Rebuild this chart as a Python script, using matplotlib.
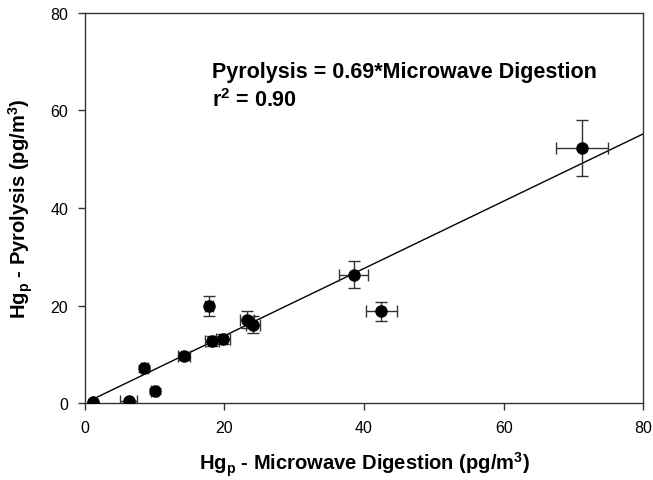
import numpy as np
import matplotlib
matplotlib.use("Agg")
import matplotlib.pyplot as plt

plt.rcParams['font.family'] = ['Liberation Sans', 'DejaVu Sans']
plt.rcParams['mathtext.fontset'] = 'custom'
plt.rcParams['mathtext.rm'] = 'Liberation Sans'
plt.rcParams['mathtext.bf'] = 'Liberation Sans:bold'

# microwave digestion (x) vs pyrolysis (y), pg/m3
mw = [1.1, 6.3, 10.0, 8.5, 14.2, 18.2, 19.8, 17.8, 23.2, 24.1, 38.5, 42.5, 71.2]
pyro = [0.3, 0.4, 2.5, 7.1, 9.7, 12.8, 13.2, 19.9, 17.1, 16.1, 26.3, 18.8, 52.3]
mw_err = [0.0, 1.2, 0.5, 0.5, 0.8, 1.0, 1.0, 0.6, 1.0, 1.0, 2.1, 2.2, 3.7]
pyro_err = [0.0, 0.3, 0.6, 0.8, 0.8, 1.0, 1.0, 2.0, 1.7, 1.7, 2.8, 2.0, 5.7]

slope = 0.69
fit_x = np.array([1.0, 80.0])

fig = plt.figure(figsize=(6.53, 4.81), dpi=100)
ax = fig.add_axes([0.130, 0.160, 0.855, 0.811])

ax.plot(fit_x, slope * fit_x, color='black', lw=1.0, zorder=2)
ax.errorbar(mw, pyro, xerr=mw_err, yerr=pyro_err, fmt='o', color='black',
            ecolor='#333333', elinewidth=1.0, capsize=4, capthick=1.0,
            markersize=8, zorder=3)

ax.set_xlim(0, 80)
ax.set_ylim(0, 80)
ax.set_xticks([0, 20, 40, 60, 80])
ax.set_yticks([0, 20, 40, 60, 80])
ax.tick_params(direction='out', length=5, width=1, labelsize=11.5, color='#333333',
               top=False, right=False, pad=7)
for s in ax.spines.values():
    s.set_color('#333333')
    s.set_linewidth(1.0)

ax.set_xlabel(r'Hg$_\mathbf{p}$ - Microwave Digestion (pg/m$^\mathbf{3}$)',
              fontsize=14.5, fontweight='bold', labelpad=11)
ax.set_ylabel(r'Hg$_\mathbf{p}$ - Pyrolysis (pg/m$^\mathbf{3}$)',
              fontsize=14.5, fontweight='bold', labelpad=11)

ax.text(18.2, 68.0, 'Pyrolysis = 0.69*Microwave Digestion', fontsize=15.5,
        fontweight='bold', va='center', ha='left')
ax.text(18.2, 62.3, r'r$^\mathbf{2}$ = 0.90', fontsize=15.5,
        fontweight='bold', va='center', ha='left')

fig.savefig('out.png', dpi=100)
